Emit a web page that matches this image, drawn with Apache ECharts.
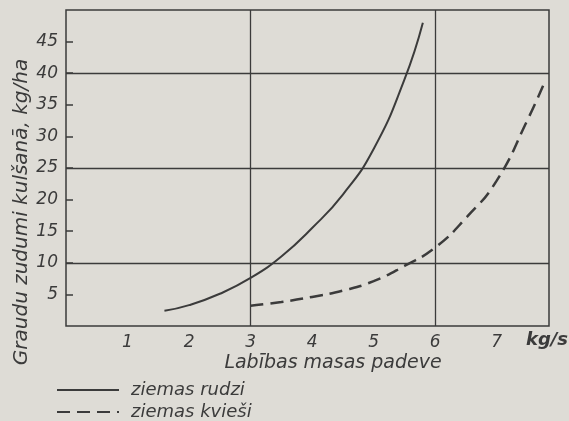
<!DOCTYPE html>
<html>
<head>
<meta charset="utf-8">
<script src="https://cdn.jsdelivr.net/npm/echarts@6/dist/echarts.min.js"></script>
<style>
  html, body { margin: 0; padding: 0; background: #dedcd6; }
  #chart { width: 569px; height: 421px; }
</style>
</head>
<body>
<div id="chart"></div>
<script>
// winter rye (solid) and winter wheat (dashed)
var rudziX = [1.6, 2.0, 2.5, 3.0, 3.5, 4.0, 4.5, 5.0, 5.5, 5.8];
var rudziY = [2.4, 3.3, 5.1, 7.6, 11.0, 15.5, 20.8, 28.0, 39.0, 48.0];
var kviesiX = [3.0, 3.5, 4.0, 4.5, 5.0, 5.5, 6.0, 6.5, 7.0, 7.5, 7.78];
var kviesiY = [3.2, 3.8, 4.6, 5.6, 7.1, 9.5, 12.4, 17.1, 23.0, 32.6, 38.6];
var xTicks = [1, 2, 3, 4, 5, 6, 7];
var yTicks = [5, 10, 15, 20, 25, 30, 35, 40, 45];
var gridX = [3, 6];
var gridY = [10, 25, 40];

var ink = '#3b3b3b';
var font = 'DejaVu Sans';

function pairs(xs, ys) {
    var out = [];
    for (var i = 0; i < xs.length; i++) out.push([xs[i], ys[i]]);
    return out;
}

var gridLines = [];
gridX.forEach(function (v) { gridLines.push({ xAxis: v }); });
gridY.forEach(function (v) { gridLines.push({ yAxis: v }); });

function legendAt(top, name) {
    return {
        left: 56, top: top, padding: 0, itemWidth: 62, itemHeight: 20,
        itemStyle: { opacity: 0 },
        textStyle: {
            color: ink, fontFamily: font, fontStyle: 'italic', fontSize: 18,
            lineHeight: 20, padding: [0, 0, 0, 7]
        },
        data: [name]
    };
}

var chart = echarts.init(document.getElementById('chart'));
chart.setOption({
    backgroundColor: '#dedcd6',
    animation: false,
    grid: {
        left: 66, right: 20, top: 10, bottom: 95,
        show: true, borderColor: ink, borderWidth: 1.5
    },
    xAxis: {
        type: 'value', min: 0, max: 7.85, interval: 1,
        axisLine: { show: false },
        axisTick: { show: false },
        splitLine: { show: false },
        axisLabel: {
            color: ink, fontFamily: font, fontStyle: 'italic', fontSize: 17, margin: 8,
            formatter: function (v) { return xTicks.indexOf(v) >= 0 ? String(v) : ''; }
        }
    },
    yAxis: {
        type: 'value', min: 0, max: 50, interval: 5,
        axisLine: { show: false },
        axisTick: {
            show: true, inside: true, length: 7, customValues: yTicks,
            lineStyle: { color: ink, width: 1.5 }
        },
        splitLine: { show: false },
        axisLabel: {
            color: ink, fontFamily: font, fontStyle: 'italic', fontSize: 17, margin: 8,
            formatter: function (v) { return yTicks.indexOf(v) >= 0 ? String(v) : ''; }
        }
    },
    legend: [legendAt(380, 'ziemas rudzi'), legendAt(402, 'ziemas kvieši')],
    graphic: [
        {
            type: 'text', x: 333, y: 363,
            style: {
                text: 'Labības masas padeve', fill: ink, font: 'italic 19px "DejaVu Sans"',
                align: 'center', verticalAlign: 'middle'
            }
        },
        {
            type: 'text', x: 547, y: 340,
            style: {
                text: 'kg/s', fill: ink, font: 'italic bold 18px "DejaVu Sans"',
                align: 'center', verticalAlign: 'middle'
            }
        },
        {
            type: 'text', x: 22, y: 212, rotation: Math.PI / 2,
            style: {
                text: 'Graudu zudumi kulšanā, kg/ha', fill: ink,
                font: 'italic 20px "DejaVu Sans"', align: 'center', verticalAlign: 'middle'
            }
        }
    ],
    series: [
        {
            name: 'ziemas rudzi', type: 'line', smooth: true, symbol: 'none',
            data: pairs(rudziX, rudziY),
            lineStyle: { color: ink, width: 2 },
            itemStyle: { color: ink },
            markLine: {
                silent: true, symbol: 'none', label: { show: false },
                lineStyle: { color: ink, width: 1.3, type: 'solid' },
                data: gridLines
            }
        },
        {
            name: 'ziemas kvieši', type: 'line', smooth: true, symbol: 'none',
            data: pairs(kviesiX, kviesiY),
            lineStyle: { color: ink, width: 2.5, type: [13, 7] },
            itemStyle: { color: ink }
        }
    ]
});
</script>
</body>
</html>
